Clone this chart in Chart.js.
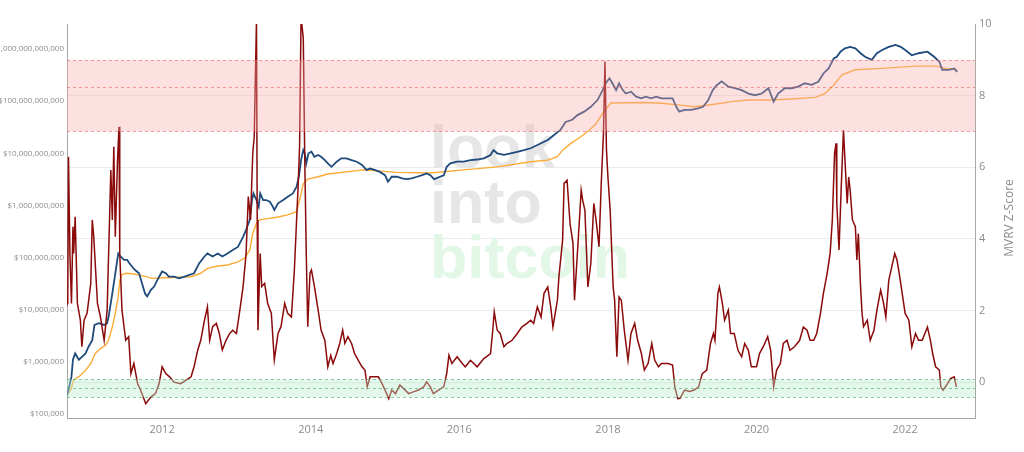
<!DOCTYPE html>
<html>
<head>
<meta charset="utf-8">
<title>MVRV Z-Score</title>
<script src="https://cdn.jsdelivr.net/npm/chart.js@4.4.0/dist/chart.umd.min.js"></script>
<style>
  html, body { margin: 0; padding: 0; background: #fff; }
  canvas { display: block; }
</style>
</head>
<body>
<canvas id="mvrv" width="1024" height="452"></canvas>
<script>
// MVRV Z-Score (right axis)
const zYears = [
  2010.70, 2010.73, 2010.74, 2010.76, 2010.78, 2010.80, 2010.81, 2010.83, 2010.86, 2010.90,
  2010.92, 2010.95, 2010.99, 2011.04, 2011.06, 2011.08, 2011.13, 2011.17, 2011.22, 2011.26,
  2011.31, 2011.33, 2011.35, 2011.37, 2011.40, 2011.42, 2011.43, 2011.46, 2011.51, 2011.55,
  2011.58, 2011.62, 2011.67, 2011.71, 2011.78, 2011.85, 2011.91, 2011.96, 2012.00, 2012.05,
  2012.10, 2012.16, 2012.25, 2012.39, 2012.43, 2012.48, 2012.52, 2012.57, 2012.61, 2012.64,
  2012.68, 2012.73, 2012.77, 2012.81, 2012.86, 2012.91, 2012.95, 2013.00, 2013.04, 2013.09,
  2013.13, 2013.16, 2013.19, 2013.22, 2013.24, 2013.27, 2013.28, 2013.29, 2013.32, 2013.34,
  2013.38, 2013.42, 2013.47, 2013.51, 2013.56, 2013.60, 2013.65, 2013.69, 2013.74, 2013.78,
  2013.83, 2013.85, 2013.87, 2013.90, 2013.92, 2013.94, 2013.96, 2013.99, 2014.01, 2014.05,
  2014.10, 2014.14, 2014.19, 2014.23, 2014.27, 2014.30, 2014.35, 2014.39, 2014.43, 2014.46,
  2014.50, 2014.55, 2014.59, 2014.64, 2014.69, 2014.73, 2014.76, 2014.80, 2014.86, 2014.91,
  2014.96, 2015.00, 2015.05, 2015.09, 2015.14, 2015.20, 2015.25, 2015.32, 2015.38, 2015.45,
  2015.52, 2015.56, 2015.61, 2015.65, 2015.72, 2015.79, 2015.83, 2015.86, 2015.90, 2015.97,
  2016.04, 2016.08, 2016.15, 2016.24, 2016.33, 2016.42, 2016.45, 2016.47, 2016.51, 2016.55,
  2016.60, 2016.64, 2016.71, 2016.78, 2016.84, 2016.91, 2016.96, 2017.00, 2017.05, 2017.10,
  2017.14, 2017.19, 2017.23, 2017.26, 2017.32, 2017.34, 2017.39, 2017.41, 2017.45, 2017.49,
  2017.53, 2017.55, 2017.60, 2017.64, 2017.66, 2017.69, 2017.73, 2017.77, 2017.81, 2017.84,
  2017.88, 2017.91, 2017.94, 2017.96, 2017.98, 2018.00, 2018.03, 2018.07, 2018.09, 2018.12,
  2018.15, 2018.18, 2018.22, 2018.27, 2018.31, 2018.36, 2018.40, 2018.45, 2018.49, 2018.54,
  2018.59, 2018.63, 2018.68, 2018.72, 2018.81, 2018.87, 2018.90, 2018.94, 2018.97, 2019.03,
  2019.10, 2019.16, 2019.22, 2019.27, 2019.33, 2019.38, 2019.42, 2019.44, 2019.48, 2019.50,
  2019.54, 2019.57, 2019.62, 2019.65, 2019.70, 2019.75, 2019.80, 2019.84, 2019.89, 2019.93,
  2020.00, 2020.04, 2020.09, 2020.15, 2020.19, 2020.23, 2020.27, 2020.32, 2020.36, 2020.41,
  2020.45, 2020.51, 2020.58, 2020.63, 2020.68, 2020.72, 2020.77, 2020.81, 2020.86, 2020.90,
  2020.95, 2020.99, 2021.02, 2021.05, 2021.07, 2021.08, 2021.11, 2021.14, 2021.17, 2021.19,
  2021.22, 2021.24, 2021.26, 2021.29, 2021.33, 2021.35, 2021.37, 2021.40, 2021.42, 2021.44,
  2021.49, 2021.53, 2021.58, 2021.62, 2021.67, 2021.71, 2021.74, 2021.78, 2021.82, 2021.86,
  2021.89, 2021.92, 2021.96, 2022.00, 2022.05, 2022.09, 2022.14, 2022.18, 2022.23, 2022.30,
  2022.34, 2022.37, 2022.41, 2022.46, 2022.48, 2022.51, 2022.57, 2022.61, 2022.66, 2022.69
];
const zScore = [
  2.10, 2.20, 6.29, 3.50, 2.20, 4.34, 3.59, 4.62, 2.20, 1.73,
  0.99, 1.73, 1.92, 2.76, 4.53, 4.06, 2.20, 1.82, 1.17, 2.01,
  5.92, 4.53, 6.57, 4.06, 6.20, 7.13, 3.59, 2.01, 1.17, 1.27,
  0.24, 0.52, -0.04, -0.22, -0.60, -0.41, -0.32, -0.04, 0.43, 0.24,
  0.15, 0.00, -0.04, 0.15, 0.43, 0.90, 1.17, 1.73, 2.10, 1.17,
  1.55, 1.64, 1.36, 0.90, 1.17, 1.36, 1.45, 1.36, 1.92, 2.67,
  3.59, 5.18, 4.53, 6.39, 6.85, 10.1, 4.53, 1.45, 3.59, 2.67,
  2.76, 2.20, 1.92, 0.62, 1.36, 1.55, 2.20, 1.92, 1.82, 3.13,
  5.46, 6.57, 10.2, 9.60, 6.20, 3.59, 1.55, 3.04, 3.13, 2.67,
  2.01, 1.45, 1.17, 0.43, 0.75, 0.52, 0.80, 1.08, 1.45, 1.08,
  1.27, 1.08, 0.80, 0.61, 0.43, 0.34, -0.13, 0.15, 0.15, 0.15,
  -0.04, -0.22, -0.46, -0.22, -0.32, -0.08, -0.18, -0.32, -0.27, -0.22,
  -0.13, 0.01, -0.13, -0.32, -0.22, -0.13, 0.24, 0.75, 0.52, 0.71,
  0.52, 0.43, 0.61, 0.43, 0.66, 0.80, 1.45, 1.96, 1.45, 1.36,
  0.99, 1.08, 1.17, 1.36, 1.54, 1.64, 1.73, 1.64, 2.10, 1.82,
  2.48, 2.66, 2.10, 1.54, 2.29, 2.94, 3.97, 5.55, 5.64, 4.43,
  3.87, 2.29, 3.97, 5.36, 5.08, 4.80, 2.66, 3.32, 4.99, 4.53,
  3.78, 5.55, 6.95, 8.95, 6.50, 5.73, 4.80, 2.66, 2.29, 0.71,
  2.38, 2.29, 1.45, 0.61, 1.36, 1.64, 1.17, 0.80, 0.34, 0.52,
  1.08, 0.61, 0.43, 0.52, 0.52, 0.48, -0.13, -0.46, -0.45, -0.22,
  -0.26, -0.22, -0.13, 0.24, 0.34, 1.08, 1.36, 1.17, 2.48, 2.66,
  2.20, 1.73, 2.01, 1.36, 1.36, 0.89, 0.71, 1.08, 0.89, 0.43,
  0.43, 0.80, 0.99, 1.27, 0.89, -0.13, 0.34, 0.52, 1.08, 1.17,
  0.89, 0.99, 1.17, 1.54, 1.45, 1.17, 1.17, 1.36, 1.92, 2.48,
  3.04, 3.59, 4.53, 6.39, 6.67, 4.99, 3.69, 5.46, 7.04, 6.20,
  4.99, 5.73, 5.36, 4.53, 4.34, 3.41, 4.15, 2.66, 1.92, 1.55,
  1.73, 1.17, 1.45, 2.01, 2.57, 2.20, 1.82, 2.85, 3.22, 3.59,
  3.41, 3.04, 2.48, 1.92, 1.73, 0.99, 1.36, 1.17, 1.17, 1.54,
  1.17, 0.80, 0.43, 0.34, -0.13, -0.22, -0.04, 0.10, 0.15, -0.13
];

// Market cap (left axis, USD)
const capYears = [
  2010.71, 2010.74, 2010.78, 2010.80, 2010.83, 2010.88, 2010.92, 2010.97, 2011.01, 2011.06,
  2011.09, 2011.15, 2011.22, 2011.26, 2011.28, 2011.33, 2011.37, 2011.41, 2011.44, 2011.49,
  2011.53, 2011.56, 2011.60, 2011.64, 2011.69, 2011.73, 2011.77, 2011.80, 2011.85, 2011.89,
  2011.96, 2012.00, 2012.05, 2012.09, 2012.16, 2012.23, 2012.30, 2012.43, 2012.50, 2012.57,
  2012.61, 2012.68, 2012.75, 2012.81, 2012.88, 2012.95, 2013.02, 2013.09, 2013.13, 2013.18,
  2013.21, 2013.23, 2013.27, 2013.30, 2013.32, 2013.36, 2013.40, 2013.45, 2013.49, 2013.51,
  2013.56, 2013.63, 2013.69, 2013.76, 2013.81, 2013.84, 2013.87, 2013.90, 2013.92, 2013.94,
  2013.97, 2014.01, 2014.05, 2014.10, 2014.14, 2014.19, 2014.23, 2014.28, 2014.35, 2014.41,
  2014.48, 2014.55, 2014.62, 2014.69, 2014.75, 2014.80, 2014.86, 2014.93, 2015.00, 2015.04,
  2015.09, 2015.16, 2015.23, 2015.29, 2015.36, 2015.43, 2015.50, 2015.56, 2015.61, 2015.66,
  2015.72, 2015.79, 2015.83, 2015.88, 2015.97, 2016.06, 2016.15, 2016.24, 2016.33, 2016.42,
  2016.46, 2016.51, 2016.60, 2016.69, 2016.78, 2016.87, 2016.96, 2017.19, 2017.36, 2017.43,
  2017.52, 2017.59, 2017.68, 2017.77, 2017.86, 2017.93, 2017.97, 2018.02, 2018.06, 2018.11,
  2018.15, 2018.20, 2018.24, 2018.31, 2018.38, 2018.45, 2018.51, 2018.58, 2018.65, 2018.72,
  2018.78, 2018.87, 2018.92, 2018.96, 2019.03, 2019.12, 2019.21, 2019.28, 2019.35, 2019.41,
  2019.46, 2019.53, 2019.62, 2019.71, 2019.80, 2019.89, 2019.98, 2020.07, 2020.16, 2020.23,
  2020.29, 2020.38, 2020.47, 2020.56, 2020.65, 2020.74, 2020.83, 2020.90, 2020.97, 2021.04,
  2021.08, 2021.13, 2021.19, 2021.26, 2021.33, 2021.40, 2021.46, 2021.55, 2021.62, 2021.69,
  2021.78, 2021.87, 2021.94, 2022.00, 2022.09, 2022.18, 2022.30, 2022.39, 2022.46, 2022.50,
  2022.59, 2022.66, 2022.70
];
const marketCap = [
  2.1e5, 2.9e5, 5.2e5, 1.1e6, 1.45e6, 1.1e6, 1.25e6, 1.45e6, 1.95e6, 2.6e6,
  5.1e6, 5.5e6, 5.1e6, 5.5e6, 7.4e6, 2.05e7, 5.0e7, 1.2e8, 1.05e8, 9.0e7,
  9.0e7, 7.8e7, 6.6e7, 5.7e7, 5.0e7, 3.2e7, 2.05e7, 1.8e7, 2.4e7, 2.75e7,
  4.3e7, 5.4e7, 5.0e7, 4.3e7, 4.3e7, 4.0e7, 4.3e7, 5.0e7, 7.8e7, 1.05e8,
  1.2e8, 1.05e8, 1.2e8, 1.05e8, 1.2e8, 1.4e8, 1.6e8, 2.5e8, 3.4e8, 5.3e8,
  1.27e9, 1.7e9, 1.27e9, 9.5e8, 1.7e9, 1.27e9, 1.27e9, 1.18e9, 9.5e8, 8.2e8,
  1.1e9, 1.27e9, 1.47e9, 1.7e9, 2.3e9, 3.55e9, 7.4e9, 1.15e10, 1.0e10, 6.4e9,
  1.0e10, 1.07e10, 8.6e9, 9.3e9, 8.6e9, 7.4e9, 6.4e9, 5.5e9, 6.9e9, 8.0e9,
  8.0e9, 7.4e9, 6.9e9, 6.0e9, 4.8e9, 5.1e9, 4.8e9, 4.4e9, 3.8e9, 2.85e9,
  3.55e9, 3.55e9, 3.3e9, 3.2e9, 3.3e9, 3.55e9, 3.8e9, 4.1e9, 3.8e9, 3.2e9,
  3.45e9, 3.8e9, 5.5e9, 6.4e9, 6.9e9, 6.9e9, 7.4e9, 7.6e9, 8.0e9, 9.3e9,
  1.15e10, 1.0e10, 9.3e9, 1.0e10, 1.07e10, 1.15e10, 1.25e10, 1.8e10, 2.8e10, 4.0e10,
  4.4e10, 5.4e10, 6.3e10, 7.8e10, 1.05e11, 1.63e11, 2.2e11, 2.75e11, 2.2e11, 1.63e11,
  2.2e11, 1.63e11, 1.4e11, 1.52e11, 1.22e11, 1.13e11, 1.22e11, 1.13e11, 1.22e11, 1.13e11,
  1.13e11, 1.13e11, 7.8e10, 6.3e10, 6.8e10, 6.8e10, 7.3e10, 7.8e10, 1.05e11, 1.63e11,
  2.0e11, 2.4e11, 1.9e11, 1.77e11, 1.63e11, 1.4e11, 1.3e11, 1.4e11, 1.77e11, 9.8e10,
  1.4e11, 1.77e11, 1.77e11, 1.9e11, 2.2e11, 2.05e11, 2.35e11, 3.4e11, 4.25e11, 6.6e11,
  7.1e11, 8.9e11, 1.03e12, 1.1e12, 1.03e12, 8.3e11, 7.1e11, 6.2e11, 8.3e11, 9.6e11,
  1.1e12, 1.2e12, 1.1e12, 9.6e11, 7.6e11, 8.3e11, 8.9e11, 7.1e11, 5.7e11, 4.0e11,
  4.0e11, 4.25e11, 3.65e11
];

// Realized cap (left axis, USD)
const realYears = [
  2010.70, 2010.77, 2010.81, 2010.88, 2010.97, 2011.04, 2011.10, 2011.17, 2011.24, 2011.28,
  2011.33, 2011.37, 2011.41, 2011.43, 2011.46, 2011.51, 2011.60, 2011.73, 2011.87, 2012.05,
  2012.39, 2012.52, 2012.61, 2012.75, 2012.88, 2013.02, 2013.11, 2013.18, 2013.22, 2013.27,
  2013.31, 2013.42, 2013.56, 2013.69, 2013.81, 2013.85, 2013.90, 2013.96, 2014.10, 2014.23,
  2014.71, 2015.16, 2015.61, 2016.06, 2016.51, 2016.96, 2017.19, 2017.32, 2017.39, 2017.50,
  2017.64, 2017.75, 2017.84, 2017.93, 2018.04, 2018.49, 2018.72, 2018.94, 2019.17, 2019.53,
  2019.66, 2019.89, 2020.20, 2020.47, 2020.79, 2020.92, 2021.04, 2021.15, 2021.33, 2021.69,
  2022.14, 2022.41, 2022.54, 2022.70
];
const realizedCap = [
  2.1e5, 2.9e5, 4.5e5, 5.2e5, 6.9e5, 9.3e5, 1.45e6, 1.8e6, 2.1e6, 2.6e6,
  4.7e6, 8.5e6, 1.8e7, 3.7e7, 4.7e7, 5.0e7, 4.9e7, 4.5e7, 4.0e7, 4.1e7,
  4.3e7, 5.0e7, 6.2e7, 6.9e7, 7.2e7, 8.3e7, 9.8e7, 1.4e8, 2.9e8, 4.6e8,
  5.3e8, 5.6e8, 6.0e8, 6.6e8, 7.6e8, 1.27e9, 2.6e9, 3.2e9, 3.55e9, 4.0e9,
  4.8e9, 4.3e9, 4.2e9, 4.8e9, 5.5e9, 6.9e9, 7.4e9, 8.6e9, 1.15e10, 1.55e10,
  2.1e10, 2.8e10, 3.7e10, 5.9e10, 9.2e10, 9.4e10, 9.1e10, 8.5e10, 7.8e10, 9.1e10,
  9.8e10, 1.05e11, 1.05e11, 1.1e11, 1.18e11, 1.4e11, 2.05e11, 3.2e11, 4.0e11, 4.25e11,
  4.7e11, 4.7e11, 4.25e11, 4.0e11
];

const yearTicks = [2012, 2014, 2016, 2018, 2020, 2022];
const capTicks = [1e5, 1e6, 1e7, 1e8, 1e9, 1e10, 1e11, 1e12];
const zTicks = [0, 2, 4, 6, 8, 10];
const redZone = [7, 8.25, 9];
const greenZone = [-0.42, -0.17, 0.08];

const toPoints = (xs, ys) => xs.map((x, i) => ({ x: x, y: ys[i] }));

const gris = '#8c8c8c';

const marcaAgua = {
  id: 'marcaAgua',
  beforeDatasetsDraw(chart) {
    const ctx = chart.ctx;
    ctx.save();
    ctx.font = 'bold 61px "Liberation Sans", Arial, sans-serif';
    ctx.textBaseline = 'alphabetic';
    ctx.textAlign = 'left';
    ctx.fillStyle = '#e6e6e6';
    ctx.fillText('look', 430, 168);
    ctx.fillText('into', 430, 223);
    ctx.fillStyle = '#e3f7e7';
    ctx.fillText('bitcoin', 430, 278);
    ctx.restore();
  }
};

const bandas = {
  id: 'bandas',
  afterDatasetsDraw(chart) {
    const { ctx, chartArea: a } = chart;
    const z = chart.scales.z;
    const zona = (niveles, relleno, linea) => {
      const arriba = z.getPixelForValue(niveles[2]);
      const abajo = z.getPixelForValue(niveles[0]);
      ctx.save();
      ctx.fillStyle = relleno;
      ctx.fillRect(a.left, arriba, a.right - a.left, abajo - arriba);
      ctx.strokeStyle = linea;
      ctx.lineWidth = 1;
      ctx.setLineDash([3, 3]);
      niveles.forEach(v => {
        const y = Math.round(z.getPixelForValue(v)) + 0.5;
        ctx.beginPath();
        ctx.moveTo(a.left, y);
        ctx.lineTo(a.right, y);
        ctx.stroke();
      });
      ctx.restore();
    };
    zona(redZone, 'rgba(250,170,170,0.35)', 'rgba(235,90,90,0.55)');
    zona(greenZone, 'rgba(185,235,205,0.4)', 'rgba(70,170,100,0.6)');
  }
};

const tituloDerecho = {
  id: 'tituloDerecho',
  afterDraw(chart) {
    const { ctx, chartArea: a } = chart;
    ctx.save();
    ctx.translate(a.right + 35, (a.top + a.bottom) / 2 - 3);
    ctx.rotate(-Math.PI / 2);
    ctx.font = '12px "Open Sans", sans-serif';
    ctx.fillStyle = gris;
    ctx.textAlign = 'center';
    ctx.textBaseline = 'middle';
    ctx.fillText('MVRV Z-Score', 0, 0);
    ctx.restore();
  }
};

const ctx = document.getElementById('mvrv').getContext('2d');
const grafico = new Chart(ctx, {
  type: 'line',
  data: {
    datasets: [
      {
        label: 'MVRV Z-Score',
        data: toPoints(zYears, zScore),
        yAxisID: 'z',
        borderColor: '#8b0a0a',
        borderWidth: 1.5,
        fill: false
      },
      {
        label: 'Market Cap',
        data: toPoints(capYears, marketCap),
        yAxisID: 'cap',
        borderColor: '#1f4a7c',
        borderWidth: 1.8,
        fill: false
      },
      {
        label: 'Realized Cap',
        data: toPoints(realYears, realizedCap),
        yAxisID: 'cap',
        borderColor: '#fbab35',
        borderWidth: 1.4,
        fill: false
      }
    ]
  },
  options: {
    responsive: false,
    animation: false,
    layout: { padding: { top: 24, left: 0, right: 0, bottom: 0 } },
    elements: { point: { radius: 0 }, line: { tension: 0 } },
    plugins: {
      legend: { display: false },
      tooltip: { enabled: false }
    },
    scales: {
      x: {
        type: 'linear',
        min: 2010.72,
        max: 2022.94,
        afterBuildTicks: s => { s.ticks = yearTicks.map(v => ({ value: v })); },
        afterFit: s => { s.height = 34; },
        grid: { display: false, drawTicks: false },
        border: { display: true, color: '#a8a8a8', width: 1 },
        ticks: {
          color: gris,
          font: { family: 'Open Sans', size: 11 },
          padding: 5,
          maxRotation: 0,
          autoSkip: false,
          callback: v => String(v)
        }
      },
      cap: {
        type: 'logarithmic',
        position: 'left',
        min: 83800,
        max: 3.02e12,
        afterBuildTicks: s => { s.ticks = capTicks.map(v => ({ value: v })); },
        afterFit: s => { s.width = 67; },
        grid: { display: false, drawTicks: false },
        border: { display: true, color: '#a8a8a8', width: 1 },
        ticks: {
          color: gris,
          font: { family: 'Open Sans', size: 8 },
          padding: 3,
          autoSkip: false,
          callback: v => '$' + Number(v).toLocaleString('en-US')
        }
      },
      z: {
        type: 'linear',
        position: 'right',
        min: -1,
        max: 10,
        afterBuildTicks: s => { s.ticks = zTicks.map(v => ({ value: v })); },
        afterFit: s => { s.width = 49; },
        grid: {
          color: c => (c.tick && c.tick.value === 10 ? 'rgba(0,0,0,0)' : '#ececec'),
          drawTicks: false
        },
        border: { display: true, color: '#a8a8a8', width: 1 },
        ticks: {
          color: gris,
          font: { family: 'Open Sans', size: 11 },
          padding: 4,
          autoSkip: false
        }
      }
    }
  },
  plugins: [marcaAgua, bandas, tituloDerecho]
});
</script>
</body>
</html>
